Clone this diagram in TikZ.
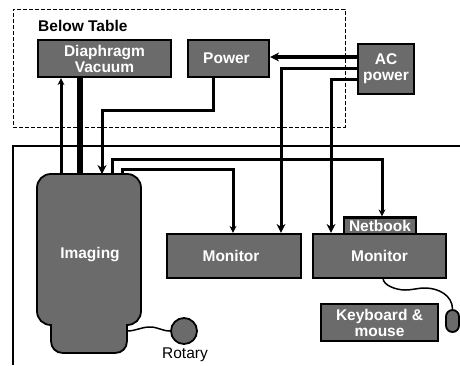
\documentclass[tikz,border=0pt]{standalone}
\usepackage{fontspec}
\setmainfont{Liberation Sans}
\usetikzlibrary{arrows.meta}
\definecolor{boxgray}{HTML}{6B6B6B}
\tikzset{
    unit/.style={draw, line width=2.2pt, fill=boxgray, text=white, align=center, inner sep=0pt,
        font=\fontsize{15.5}{16}\selectfont\bfseries},
    feed/.style={line width=3pt, arrows = {-Stealth[length=9pt, width=9pt]}},
    thinfeed/.style={line width=3pt, arrows = {-Stealth[length=7pt, width=7pt]}},
    cable/.style={line width=1.5pt}
}

\begin{document}
\begin{tikzpicture}[x=1pt, y=-1pt]
    \useasboundingbox (0,0) rectangle (460,365);

    % Below table area and room outline
    \node[draw, line width=1pt, dash pattern=on 4pt off 2pt, minimum width=332pt, minimum height=118pt, inner sep=0pt] (table) at (179,68) {};
    \node[anchor=west, inner sep=0pt, font=\fontsize{15.5}{16}\selectfont\bfseries] (tablelabel) at (38,26) {Below Table};
    \coordinate (roomleft) at (13,365);
    \coordinate (roomright) at (460,146);
    \draw[line width=2.5pt] (roomleft) -- (roomleft |- roomright) -- (roomright);

    % Nodes
    \node[unit, minimum width=133pt, minimum height=37pt] (vacuum) at (104.5,58.5) {Diaphragm\\Vacuum};
    \node[unit, minimum width=81pt, minimum height=37pt] (power) at (228.5,58.5) {Power\hspace*{4pt}};
    \node[unit, line width=1.8pt, minimum width=56pt, minimum height=50pt] (ac) at (386,69) {AC\\power};
    \node[unit, minimum width=134pt, minimum height=44pt] (monitora) at (234,256) {Monitor\hspace*{6pt}};
    \node[unit, minimum width=72pt, minimum height=17pt] (netbook) at (380,226) {Netbook};
    \node[unit, minimum width=133pt, minimum height=44pt] (monitorb) at (379.5,256) {Monitor};
    \node[unit, minimum width=117pt, minimum height=37pt] (keyboard) at (379.5,322.5) {Keyboard \&\\mouse};
    \node[draw, line width=1.8pt, fill=boxgray, rounded corners=6.5pt, minimum width=13pt, minimum height=22pt, inner sep=0pt] (mouse) at (452.5,321) {};
    \node[draw, circle, line width=1.8pt, fill=boxgray, minimum size=26pt, inner sep=0pt] (rotary) at (184,331) {};
    \node[inner sep=0pt, font=\fontsize{15.5}{16}\selectfont] (rotarylabel) at (185,355) {Rotary};

    % Imaging body
    \draw[line width=1.8pt, fill=boxgray]
        (51,174) -- (127,174) .. controls (135,174) and (141,180) .. (141,188)
        -- (141,311) .. controls (141,319) and (135,325) .. (127,325)
        -- (127,341) .. controls (127,348) and (122,353) .. (115,353)
        -- (63,353) .. controls (56,353) and (51,348) .. (51,341)
        -- (51,325) .. controls (43,325) and (37,319) .. (37,311)
        -- (37,188) .. controls (37,180) and (43,174) .. (51,174) -- cycle;
    \node[text=white, inner sep=0pt, font=\fontsize{15.5}{16}\selectfont\bfseries] (imaging) at (90,255) {Imaging};
    \coordinate (imagingup) at (61,174);
    \coordinate (imagingvac) at (80,174);
    \coordinate (imagingpow) at (102,174);
    \coordinate (imagingnet) at (112,174);
    \coordinate (imagingmon) at (122,174);
    \coordinate (imagingside) at (127,331);

    % Connections
    \draw[thinfeed] (imagingup) -- (imagingup |- vacuum.south);
    \draw[line width=6pt] (imagingvac) -- (imagingvac |- vacuum.south);
    \draw[feed] (power.south -| 213,0) -- (213,110) -- (102,110) -- (imagingpow);
    \draw[line width=4pt, arrows = {-Stealth[length=9pt, width=9pt]}] (ac.west |- 0,57) -- (power.east |- 0,57);
    \draw[feed] (ac.west |- 0,68) -- (281,68) -- (281,0 |- monitora.north);
    \draw[feed] (ac.west |- 0,79) -- (331,79) -- (331,0 |- monitorb.north);
    \draw[thinfeed] (imagingnet) -- (112,159) -- (382,159) -- (382,0 |- netbook.north);
    \draw[thinfeed] (imagingmon) -- (122,169) -- (233,169) -- (233,0 |- monitora.north);
    \draw[cable] (imagingside) to[out=0, in=180] (150,327) to[out=0, in=180] (rotary.west);
    \draw[cable] (383,278) to[out=270, in=180, looseness=0.8] (405,290) to[out=0, in=180] (425,288) to[out=0, in=90] (mouse.north);
\end{tikzpicture}
\end{document}
